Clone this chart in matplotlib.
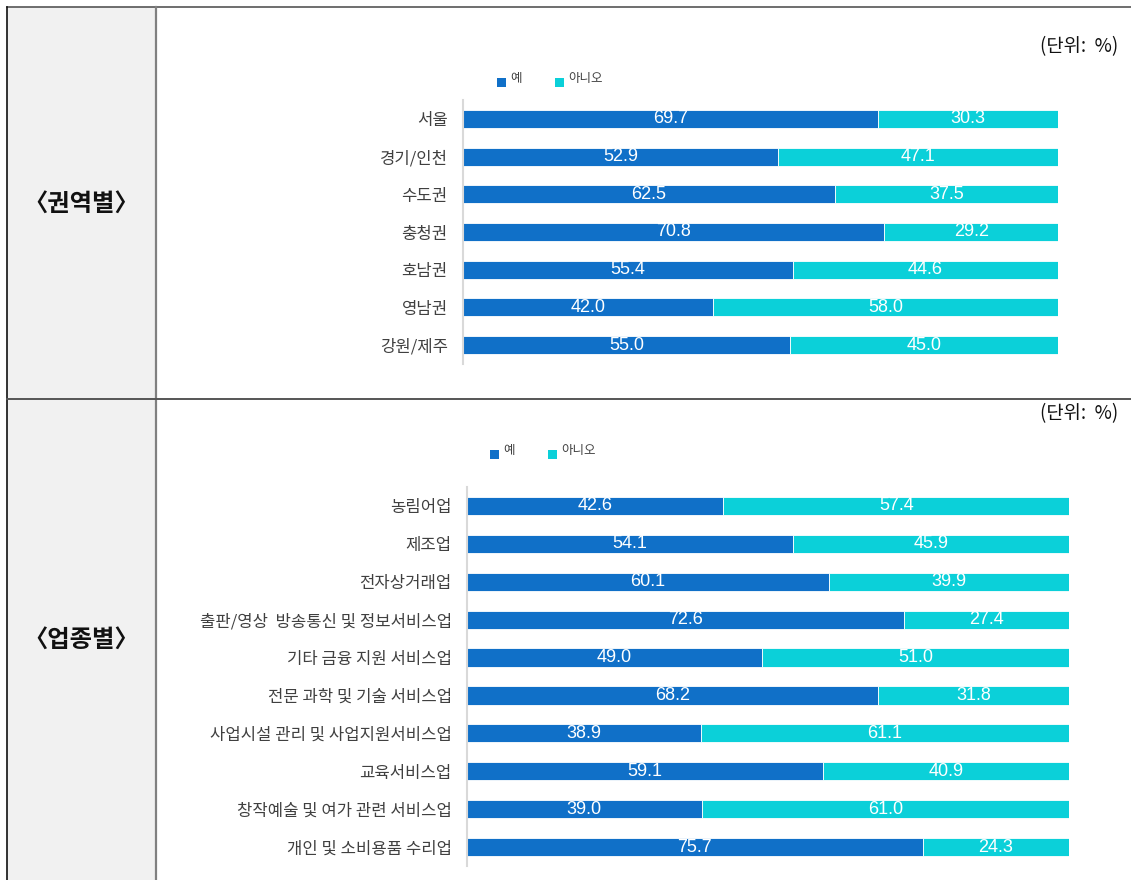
import matplotlib.pyplot as plt
from matplotlib.patches import Rectangle
from matplotlib.lines import Line2D

plt.rcParams['font.family'] = ['Noto Sans CJK KR', 'DejaVu Sans']

W, H = 1131, 880

region_labels = ["서울", "경기/인천", "수도권", "충청권", "호남권", "영남권", "강원/제주"]
region_yes = [69.7, 52.9, 62.5, 70.8, 55.4, 42.0, 55.0]
region_no = [30.3, 47.1, 37.5, 29.2, 44.6, 58.0, 45.0]

industry_labels = ["농림어업", "제조업", "전자상거래업", "출판/영상  방송통신 및 정보서비스업",
                   "기타 금융 지원 서비스업", "전문 과학 및 기술 서비스업",
                   "사업시설 관리 및 사업지원서비스업", "교육서비스업",
                   "창작예술 및 여가 관련 서비스업", "개인 및 소비용품 수리업"]
industry_yes = [42.6, 54.1, 60.1, 72.6, 49.0, 68.2, 38.9, 59.1, 39.0, 75.7]
industry_no = [57.4, 45.9, 39.9, 27.4, 51.0, 31.8, 61.1, 40.9, 61.0, 24.3]

series_names = ["예", "아니오"]
c_yes = "#1070c8"
c_no = "#0bd0d9"


def fx(x):
    return x / W


def fy(y):
    return 1 - y / H


fig = plt.figure(figsize=(W / 100, H / 100), dpi=100)

# table frame
fig.add_artist(Rectangle((fx(7), 0), fx(156) - fx(7), fy(7), facecolor="#f1f1f1",
                         edgecolor="none", transform=fig.transFigure, zorder=0))
fig.add_artist(Line2D([fx(7), 1], [fy(7), fy(7)], color="#555555", lw=1.2, transform=fig.transFigure))
fig.add_artist(Line2D([fx(7), fx(7)], [0, fy(7)], color="#111111", lw=1.2, transform=fig.transFigure))
fig.add_artist(Line2D([fx(156), fx(156)], [0, fy(7)], color="#808080", lw=1.6, transform=fig.transFigure))
fig.add_artist(Line2D([fx(7), 1], [fy(399), fy(399)], color="#555555", lw=1.4, transform=fig.transFigure))

fig.text(fx(81), fy(204), "〈권역별〉", ha="center", va="center", fontsize=17.5, fontweight="bold", color="#111111")
fig.text(fx(81), fy(640), "〈업종별〉", ha="center", va="center", fontsize=17.5, fontweight="bold", color="#111111")


def draw_chart(labels, yes, no, x0, x1, ytop, ybot, unit_y, leg_x, leg_y):
    ax = fig.add_axes([fx(x0), fy(ybot), fx(x1) - fx(x0), fy(ytop) - fy(ybot)])
    pos = list(range(len(labels)))
    b1 = ax.barh(pos, yes, height=0.48, color=c_yes, edgecolor="white", linewidth=0.6)
    b2 = ax.barh(pos, no, left=yes, height=0.48, color=c_no, edgecolor="white", linewidth=0.6)
    for bars, vals, lefts in ((b1, yes, [0] * len(yes)), (b2, no, yes)):
        for p, v, l in zip(pos, vals, lefts):
            ax.text(l + v / 2, p, f"{v:.1f}", ha="center", va="center", color="white",
                    fontsize=13, family=["Liberation Sans", "DejaVu Sans"])
    ax.set_xlim(0, 100)
    ax.set_ylim(len(labels) - 0.5, -0.5)
    ax.set_yticks(pos)
    ax.set_yticklabels(labels, fontsize=12, color="#404040")
    ax.tick_params(axis="y", length=0, pad=11)
    ax.set_xticks([])
    for s in ("top", "right", "bottom"):
        ax.spines[s].set_visible(False)
    ax.spines["left"].set_color("#d9d9d9")
    ax.spines["left"].set_linewidth(1.5)
    ax.patch.set_alpha(0)

    fig.text(fx(1118), fy(unit_y), "(단위:  %)", ha="right", va="center", fontsize=13.5, color="#111111")
    for i, (name, col) in enumerate(zip(series_names, (c_yes, c_no))):
        lx = leg_x + i * 58
        fig.add_artist(Rectangle((fx(lx), fy(leg_y + 7)), fx(9), 9 / H, facecolor=col,
                                 edgecolor="none", transform=fig.transFigure))
        fig.text(fx(lx + 13), fy(leg_y - 1.5), name, ha="left", va="center", fontsize=9, color="#404040")


draw_chart(region_labels, region_yes, region_no, 463, 1058, 100, 364, 47, 497, 80)
draw_chart(industry_labels, industry_yes, industry_no, 467, 1069, 487, 866, 414, 490, 452)

fig.savefig("out.png", dpi=100)
